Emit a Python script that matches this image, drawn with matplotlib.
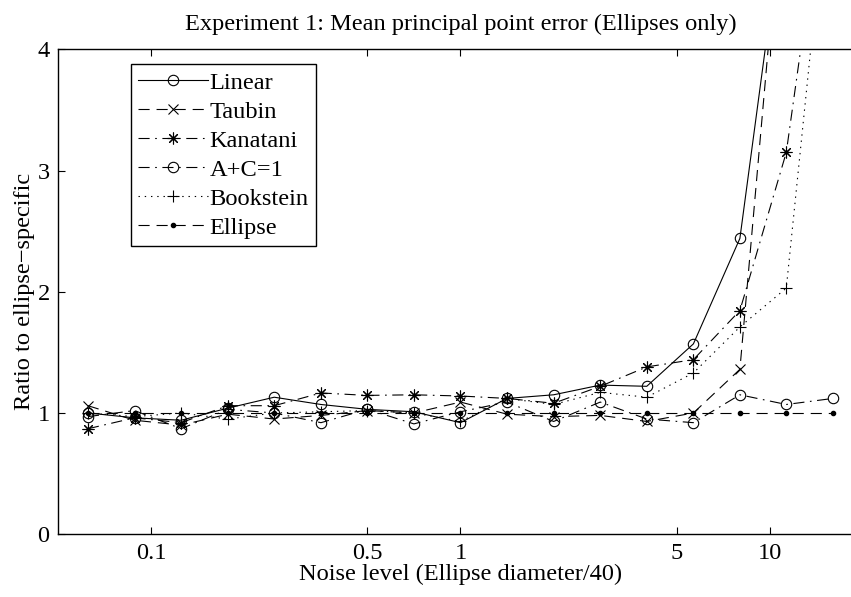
import matplotlib.pyplot as plt
import numpy as np

plt.rcParams['font.family'] = ['Liberation Serif', 'DejaVu Serif']
plt.rcParams['lines.scale_dashes'] = False

# noise levels: 2^(k/2), k = -8..8
noise = [0.0625, 0.0884, 0.125, 0.177, 0.25, 0.354, 0.5, 0.707, 1.0,
         1.414, 2.0, 2.83, 4.0, 5.66, 8.0, 11.3, 16.0]

linear    = [1.00, 0.96, 0.94, 1.04, 1.13, 1.07, 1.03, 1.01, 0.92,
             1.12, 1.15, 1.23, 1.22, 1.57, 2.44, 5.30, 9.00]
taubin    = [1.06, 0.94, 0.90, 0.99, 0.95, 0.98, 1.02, 1.00, 1.09,
             0.99, 0.97, 0.98, 0.93, 1.00, 1.36, 5.70, 9.00]
kanatani  = [0.87, 0.96, 0.92, 1.06, 1.06, 1.165, 1.145, 1.15, 1.14,
             1.12, 1.08, 1.22, 1.38, 1.44, 1.845, 3.15, 5.90]
a_plus_c  = [0.97, 1.02, 0.87, 1.03, 1.00, 0.92, 1.03, 0.91, 1.01,
             1.09, 0.93, 1.09, 0.95, 0.92, 1.15, 1.07, 1.12]
bookstein = [1.00, 0.97, 1.00, 0.95, 1.00, 1.01, 1.02, 1.00, 0.93,
             1.12, 1.07, 1.17, 1.13, 1.33, 1.71, 2.03, 5.80]
ellipse   = [1.0] * 17

labels = ['Linear', 'Taubin', 'Kanatani', 'A+C=1', 'Bookstein', 'Ellipse']
xticks = [0.1, 0.5, 1, 5, 10]
xticklabels = ['0.1', '0.5', '1', '5', '10']
yticks = [0, 1, 2, 3, 4]

dashed = (0, (8, 5))
dashdot = (0, (8, 4, 1.2, 4))
dotted = (0, (1, 3.5))

fs = 17.6

fig = plt.figure(figsize=(8.51, 5.97), dpi=100)
ax = fig.add_axes([58/851, 1-534.2/597, 805/851, (534.2-49.3)/597])

lw = 0.8
ms = 7.5
ax.plot(noise, linear, color='k', lw=lw, ls='-', marker='o', ms=ms, mfc='none', mew=lw, label=labels[0])
ax.plot(noise, taubin, color='k', lw=lw, ls=dashed, marker='x', ms=ms, mew=lw, label=labels[1])
ax.plot(noise, kanatani, color='k', lw=lw, ls=dashdot, marker=(8, 2, 0), ms=ms+1, mew=lw, label=labels[2])
ax.plot(noise, a_plus_c, color='k', lw=lw, ls=dashdot, marker='o', ms=ms, mfc='none', mew=lw, label=labels[3])
ax.plot(noise, bookstein, color='k', lw=lw, ls=dotted, marker='+', ms=ms+1, mew=lw, label=labels[4])
ax.plot(noise, ellipse, color='k', lw=lw, ls=dashed, marker='.', ms=6, label=labels[5])

ax.set_xscale('log')
ax.set_xlim(0.05, 20)
ax.set_ylim(0, 4)
ax.set_xticks(xticks)
ax.set_xticklabels(xticklabels)
ax.xaxis.set_minor_locator(plt.NullLocator())
ax.set_yticks(yticks)
ax.tick_params(direction='in', length=5, width=0.8, labelsize=fs, top=True, right=True, pad=6)
for s in ax.spines.values():
    s.set_linewidth(1.0)

ax.set_title('Experiment 1: Mean principal point error (Ellipses only)', fontsize=fs, pad=14)
ax.set_xlabel('Noise level (Ellipse diameter/40)', fontsize=fs, labelpad=0)
ax.set_ylabel('Ratio to ellipse\u2212specific', fontsize=fs, labelpad=2)

leg = ax.legend(loc='upper left', bbox_to_anchor=(72.7/805, 1-15/484.9), fontsize=fs,
                handlelength=2.87, handletextpad=0.05, borderpad=0.3, labelspacing=0.28,
                fancybox=False, framealpha=1, edgecolor='k', borderaxespad=0)
leg.get_frame().set_linewidth(1.0)

fig.savefig('out.png', dpi=100)
